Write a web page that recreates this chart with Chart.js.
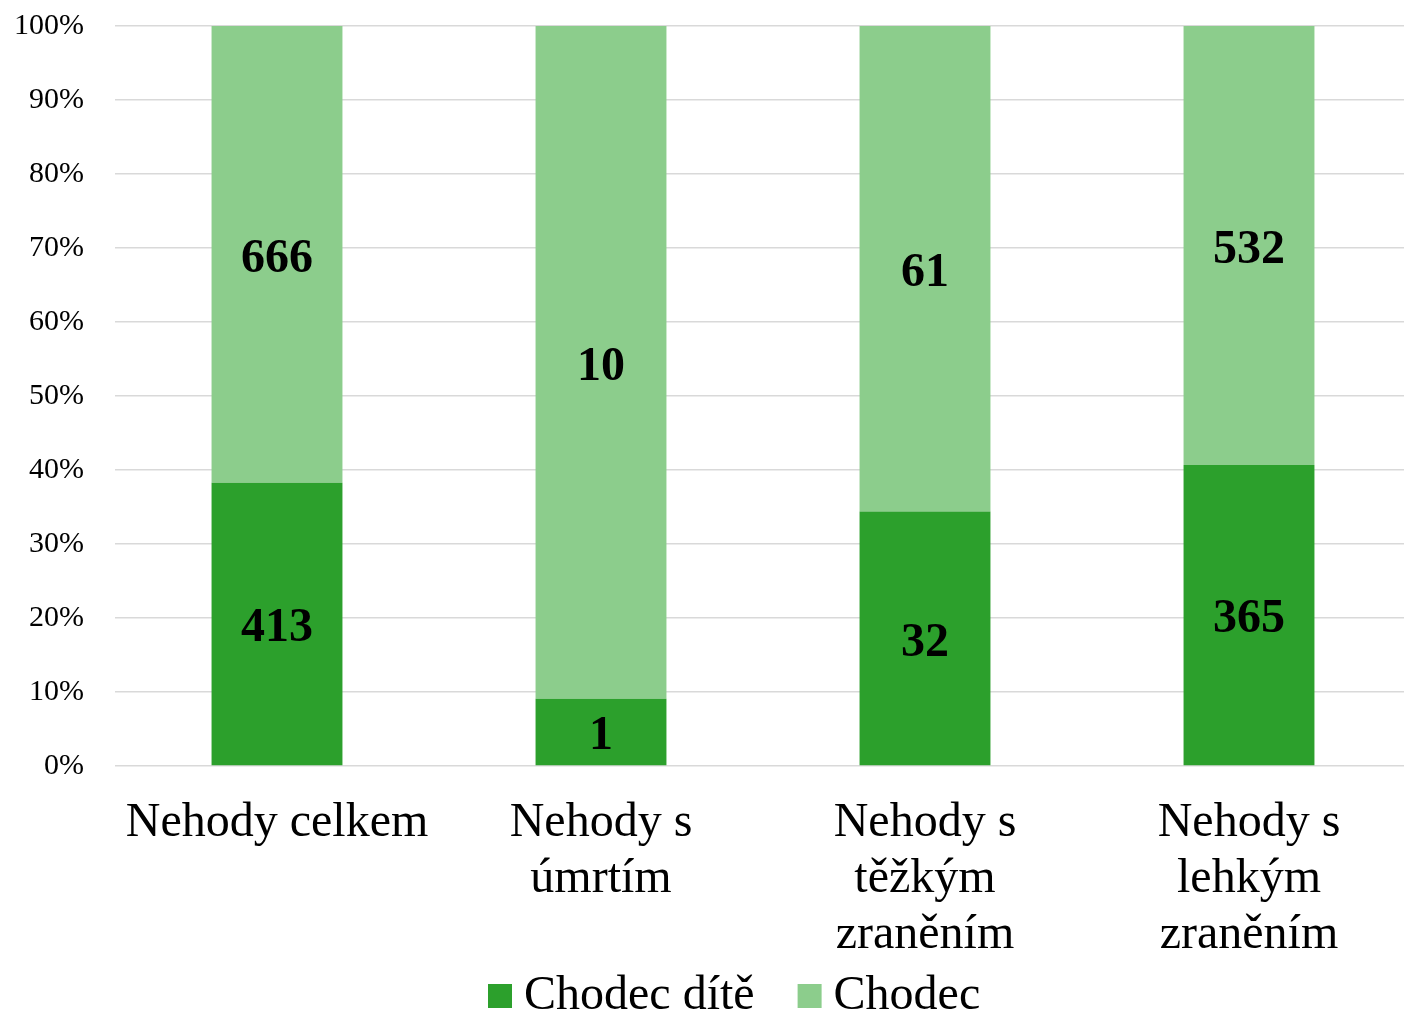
<!doctype html>
<html lang="cs">
  <head>
    <meta charset="utf-8">
    <title>Chodci - nehody</title>
    <style>
      * { margin: 0; padding: 0; }
      html, body { background: #fff; overflow: hidden; }
      .chartBox { width: 1411px; height: 1014px; }
    </style>
  </head>
  <body>
    <div class="chartBox">
      <canvas id="myChart"></canvas>
    </div>
    <script src="https://cdn.jsdelivr.net/npm/chart.js/dist/chart.umd.min.js"></script>
    <script>
    // data
    const categories = [
      ['Nehody celkem'],
      ['Nehody s', 'úmrtím'],
      ['Nehody s', 'těžkým', 'zraněním'],
      ['Nehody s', 'lehkým', 'zraněním']
    ];
    const childCounts = [413, 1, 32, 365];
    const pedestrianCounts = [666, 10, 61, 532];
    const yTicks = [0, 10, 20, 30, 40, 50, 60, 70, 80, 90, 100];

    const totals = childCounts.map((v, i) => v + pedestrianCounts[i]);
    const childPct = childCounts.map((v, i) => v / totals[i] * 100);
    const pedPct = pedestrianCounts.map((v, i) => v / totals[i] * 100);

    const serif = "'Liberation Serif', 'Times New Roman', serif";

    // draws the raw counts in the middle of each segment
    const countLabels = {
      id: 'countLabels',
      afterDatasetsDraw(chart) {
        const c = chart.ctx;
        c.save();
        c.font = 'bold 48px ' + serif;
        c.fillStyle = '#000';
        c.textAlign = 'center';
        c.textBaseline = 'middle';
        chart.data.datasets.forEach((ds, di) => {
          const meta = chart.getDatasetMeta(di);
          meta.data.forEach((bar, i) => {
            const mid = (bar.y + bar.base) / 2;
            c.fillText(ds.counts[i], bar.x, mid + 5);
          });
        });
        c.restore();
      }
    };

    // legend like the excel one: small squares, tight gap to the text
    const bottomLegend = {
      id: 'bottomLegend',
      afterDraw(chart) {
        const c = chart.ctx;
        c.save();
        c.font = '48px ' + serif;
        c.textBaseline = 'middle';
        c.textAlign = 'left';
        let x = 488;
        const y = 996;
        chart.data.datasets.forEach(ds => {
          c.fillStyle = ds.backgroundColor;
          c.fillRect(x, y - 12, 24, 24);
          c.fillStyle = '#000';
          c.fillText(ds.label, x + 36, y);
          x += 36 + c.measureText(ds.label).width + 43;
        });
        c.restore();
      }
    };

    const data = {
      labels: categories,
      datasets: [{
        label: 'Chodec dítě',
        data: childPct,
        counts: childCounts,
        backgroundColor: '#2ca02c'
      }, {
        label: 'Chodec',
        data: pedPct,
        counts: pedestrianCounts,
        backgroundColor: '#8ccd8c'
      }]
    };

    const config = {
      type: 'bar',
      data,
      options: {
        responsive: false,
        animation: false,
        maintainAspectRatio: false,
        barPercentage: 0.404,
        categoryPercentage: 1,
        layout: { padding: { top: 26, right: 0, left: 0, bottom: 50 } },
        plugins: {
          tooltip: { enabled: false },
          legend: { display: false }
        },
        scales: {
          x: {
            stacked: true,
            afterFit(scale) { scale.height = 198; },
            grid: { display: false, drawTicks: false },
            border: { display: false },
            ticks: {
              color: '#000',
              padding: 30,
              maxRotation: 0,
              autoSkip: false,
              font: { family: serif, size: 48, lineHeight: 1.16 }
            }
          },
          y: {
            stacked: true,
            min: 0,
            max: 100,
            afterBuildTicks(scale) {
              scale.ticks = yTicks.map(v => ({ value: v }));
            },
            afterFit(scale) {
              scale.width = 115;
              scale.paddingTop = 0;
              scale.paddingBottom = 0;
            },
            grid: { color: '#d9d9d9', lineWidth: 1.5, drawTicks: false },
            border: { display: false },
            ticks: {
              color: '#000',
              padding: 31,
              font: { family: serif, size: 30 },
              callback: v => v + '%'
            }
          }
        }
      },
      plugins: [countLabels, bottomLegend]
    };

    const canvas = document.getElementById('myChart');
    canvas.width = 1411;
    canvas.height = 1014;
    const myChart = new Chart(canvas, config);
    </script>
  </body>
</html>
